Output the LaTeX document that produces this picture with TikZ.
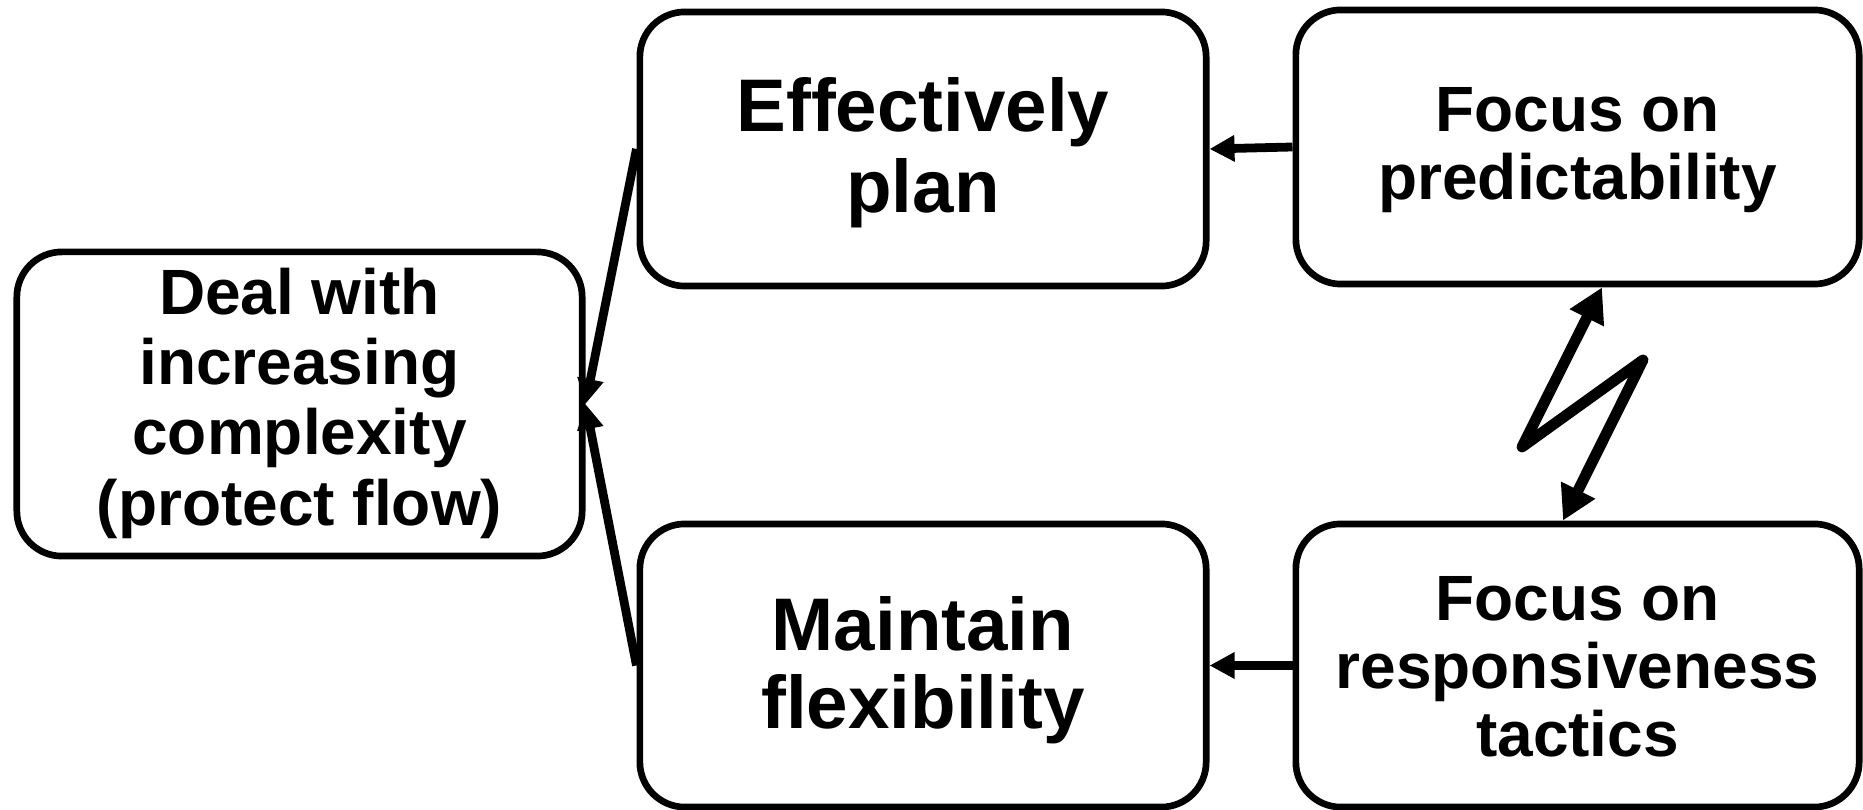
\documentclass[tikz,border=0pt]{standalone}
\usepackage{fontspec}
\setmainfont{Liberation Sans}
\usetikzlibrary{arrows.meta,calc}
\begin{document}
\begin{tikzpicture}[x=0.01cm,y=-0.01cm,
  box/.style={draw, line width=1.9pt, rounded corners=0.45cm, inner sep=0pt},
  label text/.style={align=center, inner sep=0pt},
  bigtext/.style={label text, font=\fontsize{21.2}{23}\selectfont\bfseries},
  smalltext/.style={label text, font=\fontsize{18.2}{19.3}\selectfont\bfseries},
  link/.style={line width=2.5pt, -{Triangle[length=0.25cm,width=0.25cm]}},
  bolt/.style={line width=3.1pt, line join=round,
    {Triangle[length=0.34cm,width=0.36cm]}-{Triangle[length=0.34cm,width=0.36cm]}}]
\useasboundingbox (0,0) rectangle (1863,810);
\clip (0,0) rectangle (1863,810);

% boxes
\node[box, minimum width=5.65cm, minimum height=3.04cm] (deal) at (299.5,404) {};
\node[box, minimum width=5.66cm, minimum height=2.74cm] (plan) at (923,149) {};
\node[box, minimum width=5.63cm, minimum height=2.74cm] (pred) at (1577.5,147) {};
\node[box, minimum width=5.66cm, minimum height=2.83cm] (maint) at (923,665.5) {};
\node[box, minimum width=5.63cm, minimum height=2.83cm] (resp) at (1577.5,665.5) {};

% box texts
\node[smalltext, font=\fontsize{18.2}{20}\selectfont\bfseries] (dealtext) at (299.5,403)
  {Deal with\\increasing\\complexity\\(protect flow)};
\node[bigtext] (plantext) at (923,153) {Effectively\\plan};
\node[smalltext] (predtext) at (1577.5,150) {Focus on\\predictability};
\node[bigtext, font=\fontsize{21.2}{22.3}\selectfont\bfseries] (mainttext) at (923,670) {Maintain\\flexibility};
\node[smalltext] (resptext) at (1577.5,666.5) {Focus on\\responsiveness\\tactics};

% connectors
\draw[link] (pred.west) -- (plan.east);
\draw[link] (resp.west) -- (maint.east);
\draw[link] (plan.west) -- (deal.east);
\draw[link] (maint.west) -- (deal.east);

% lightning bolt between the two focus boxes
\coordinate (b1) at (1522,447);
\coordinate (b2) at (1643,360);
\draw[bolt] ($(pred.south)+(24.5,0)$) -- (b1) -- (b2) -- ($(resp.north)+(-14.5,0)$);
\end{tikzpicture}
\end{document}
